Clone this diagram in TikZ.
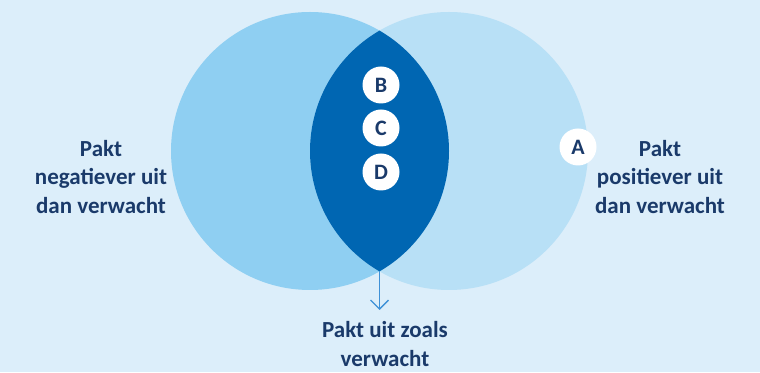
\documentclass[tikz,border=0pt]{standalone}
\usepackage{fontspec}
\setmainfont{Carlito}
\usetikzlibrary{arrows.meta}
\definecolor{fondo}{RGB}{220,238,250}
\definecolor{izq}{RGB}{143,207,242}
\definecolor{der}{RGB}{184,224,246}
\definecolor{lente}{RGB}{0,102,178}
\definecolor{flecha}{RGB}{62,145,215}
\definecolor{marino}{RGB}{26,58,106}
\tikzset{
	conjunto/.style={circle, minimum size=278pt, inner sep=0pt},
	letra/.style={circle, fill=white, minimum size=37pt, inner sep=0pt, text=marino, font=\fontsize{22}{22}\selectfont\bfseries},
	etiqueta/.style={align=center, text=marino, font=\fontsize{23}{28.5}\selectfont\bfseries}
}
\begin{document}
\begin{tikzpicture}[x=1pt, y=1pt]
		% Fondo
			\fill[fondo] (0,0) rectangle (760,372);
			\useasboundingbox (0,0) rectangle (760,372);
		% Conjuntos
			\node[conjunto, fill=izq] (negativo) at (310,221) {};
			\node[conjunto, fill=der] (positivo) at (449,221) {};
			\begin{scope}
				\clip (negativo.center) circle[radius=139];
				\fill[lente] (positivo.center) circle[radius=139];
			\end{scope}
		% Flecha
			\coordinate (punta) at (379.5,101);
			\coordinate (fin) at (379.5,62);
			\draw[flecha, line width=1.3pt, -{Straight Barb[length=9pt, width=18pt, line width=1.3pt]}] (punta) -- (fin);
		% Letras
			\node[letra] (B) at (381,287) {B};
			\node[letra] (C) at (381,244) {C};
			\node[letra] (D) at (381,200) {D};
			\node[letra] (A) at (578,225) {A};
		% Etiquetas
			\node[etiqueta] (textoneg) at (101,195) {Pakt\\negatiever uit\\dan verwacht};
			\node[etiqueta] (textopos) at (660,195) {Pakt\\positiever uit\\dan verwacht};
			\node[etiqueta, inner sep=0pt] (textozoals) at (385,28) {Pakt uit zoals\\verwacht};
	\end{tikzpicture}
\end{document}
